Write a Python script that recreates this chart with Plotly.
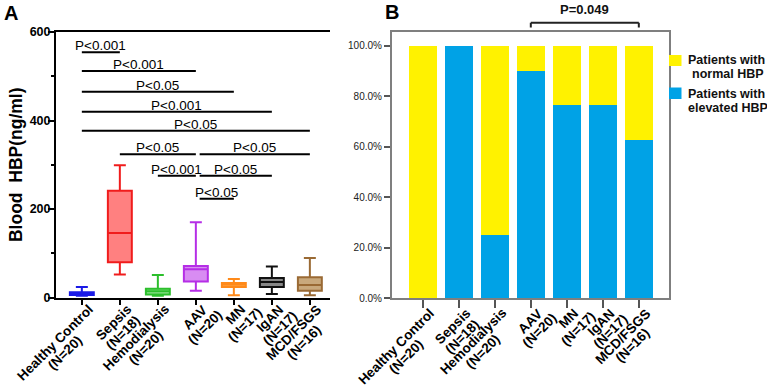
import math
import plotly.graph_objects as go

W, H = 767, 387
FONT = "Arial, Liberation Sans, Helvetica, sans-serif"

# ---------------- data ----------------
categories = ["Healthy Control", "Sepsis", "Hemodialysis", "AAV", "MN", "IgAN", "MCD/FSGS"]
group_n = [20, 18, 20, 20, 17, 17, 16]

# Panel A: blood HBP (ng/ml) box statistics
box_lower = [4, 52, 4, 15, 5, 8, 5]
box_q1 = [5.6, 79.5, 7, 36, 24, 24, 15]
box_median = [9, 146, 14, 64, 29, 35, 28]
box_q3 = [11.7, 241, 20, 71, 33, 44, 46]
box_upper = [24, 299, 51, 170, 42, 70, 89]

# Pairwise comparisons shown above panel A
sig_from = [0, 0, 0, 0, 0, 1, 3, 2, 3, 3]
sig_to = [1, 3, 4, 5, 6, 3, 6, 3, 5, 4]
sig_y = [554, 512, 465, 420, 377, 324, 324, 275, 275, 223]
sig_label = ["P<0.001", "P<0.001", "P<0.05", "P<0.001", "P<0.05",
             "P<0.05", "P<0.05", "P<0.001", "P<0.05", "P<0.05"]

# Panel B: percentage of patients
elevated_pct = [0, 100, 25, 90, 76.5, 76.5, 62.5]
normal_pct = [100, 0, 75, 10, 23.5, 23.5, 37.5]
b_compare = (3, 6)
b_compare_label = "P=0.049"

y_ticks_a = [0, 200, 400, 600]
y_minor_a = [100, 300, 500]
y_ticks_b = [0, 20, 40, 60, 80, 100]
y_ticktext_b = ["0.0%", "20.0%", "40.0%", "60.0%", "80.0%", "100.0%"]

# ---------------- styles ----------------
line_colors = ["#1a1ae6", "#f01c1c", "#2cbf2c", "#b52ee6", "#ff8a1a", "#111111", "#9a6a34"]
fill_colors = ["#7d7dff", "#ff8080", "#8ee08e", "#d88cf2", "#ffc27f", "#888888", "#c9a97c"]
yellow = "#FFF200"
blue = "#00A2E6"

# approximate Arial Bold widths (per 1000 em)
AB = {" ": 278, "(": 333, ")": 333, "=": 584, "/": 278, "A": 722, "B": 722, "C": 722,
      "D": 722, "F": 611, "G": 778, "H": 722, "I": 278, "M": 833, "N": 722, "P": 667,
      "S": 667, "V": 667, "a": 556, "c": 556, "d": 611, "e": 556, "g": 611, "h": 611,
      "i": 278, "l": 278, "m": 889, "n": 611, "o": 611, "p": 611, "r": 389, "s": 556,
      "t": 333, "y": 556}


def text_w(s, size):
    return sum(AB.get(c, 556) for c in s) / 1000.0 * size


xpos = list(range(len(categories)))


def px_x(p):
    return p / W


def px_y(p):
    return 1 - p / H


fig = go.Figure()

# Panel A boxes
for i in xpos:
    fig.add_trace(go.Box(
        x=[i], q1=[box_q1[i]], median=[box_median[i]], q3=[box_q3[i]],
        lowerfence=[box_lower[i]], upperfence=[box_upper[i]],
        name=categories[i], width=0.63, whiskerwidth=0.5,
        line=dict(color=line_colors[i], width=2), fillcolor=fill_colors[i],
        boxpoints=False, showlegend=False, xaxis="x", yaxis="y",
        hoverinfo="skip"))

# Panel B stacked bars
fig.add_trace(go.Bar(x=xpos, y=elevated_pct, name="Patients with elevated HBP",
                     marker=dict(color=blue, line=dict(width=0)), width=0.77,
                     xaxis="x2", yaxis="y2", showlegend=False))
fig.add_trace(go.Bar(x=xpos, y=normal_pct, name="Patients with normal HBP",
                     marker=dict(color=yellow, line=dict(width=0)), width=0.77,
                     xaxis="x2", yaxis="y2", showlegend=False))

shapes = []
annotations = []

# significance lines panel A
for a, b, y, lab in zip(sig_from, sig_to, sig_y, sig_label):
    x0 = a + (0.1 if a == 3 else 0)
    shapes.append(dict(type="line", xref="x", yref="y", x0=x0, x1=b, y0=y, y1=y,
                       line=dict(color="black", width=2)))
    annotations.append(dict(xref="x", yref="y", x=(x0 + b) / 2, y=y, text=lab,
                            showarrow=False, yanchor="bottom", yshift=-3,
                            font=dict(family=FONT, size=13.5, color="black")))

# bracket panel B
by0, by1 = px_y(22.7), px_y(27.5)
a, b = b_compare
shapes.append(dict(type="line", xref="x2", yref="paper", x0=a, x1=b, y0=by0, y1=by0,
                   line=dict(color="#222", width=2)))
for xx in (a, b):
    shapes.append(dict(type="line", xref="x2", yref="paper", x0=xx, x1=xx, y0=by0, y1=by1,
                       line=dict(color="#222", width=2)))
annotations.append(dict(xref="x2", yref="paper", x=(a + b) / 2, y=px_y(9.5), text=b_compare_label,
                        showarrow=False, yanchor="middle",
                        font=dict(family=FONT, size=13, color="#111", weight="bold")))

# legend for panel B
shapes.append(dict(type="rect", xref="paper", yref="paper", x0=px_x(669), x1=px_x(681.5),
                   y0=px_y(66), y1=px_y(55), fillcolor=yellow, line=dict(width=0)))
shapes.append(dict(type="rect", xref="paper", yref="paper", x0=px_x(669), x1=px_x(681.5),
                   y0=px_y(99), y1=px_y(87.5), fillcolor=blue, line=dict(width=0)))
leg_lines = [("Patients with", 686, 60.5), ("normal HBP", 690, 73.5),
             ("Patients with", 686, 94), ("elevated HBP", 686, 107.5)]
for t, lx, ly in leg_lines:
    annotations.append(dict(xref="paper", yref="paper", x=px_x(lx), y=px_y(ly), text=t,
                            showarrow=False, xanchor="left", yanchor="middle",
                            font=dict(family=FONT, size=12.5, color="#111", weight="bold")))

# panel letters
annotations.append(dict(xref="paper", yref="paper", x=px_x(2), y=px_y(13), text="A",
                        showarrow=False, xanchor="left", yanchor="middle",
                        font=dict(family=FONT, size=20, color="black", weight="bold")))
annotations.append(dict(xref="paper", yref="paper", x=px_x(383), y=px_y(12), text="B",
                        showarrow=False, xanchor="left", yanchor="middle",
                        font=dict(family=FONT, size=20, color="black", weight="bold")))

# rotated two-line category labels (centred lines, tight line spacing)
LBL = 13.5
LINE_GAP = 13.8
u = (math.cos(math.radians(45)), -math.sin(math.radians(45)))   # along text (screen px, y down)
nrm = (math.cos(math.radians(45)), math.sin(math.radians(45)))  # towards next line
lbl_font = dict(family=FONT, size=LBL, color="black", weight="bold")


def add_cat_labels(xref, axis_px, ticklen):
    for i in xpos:
        lines = [categories[i], f"(N={group_n[i]})"]
        w1 = text_w(lines[0], LBL)
        ex, ey = 12.5, ticklen + 8.0           # baseline end of first line vs tick
        mx, my = ex - w1 / 2 * u[0], ey - w1 / 2 * u[1]   # baseline middle of line 1
        for k, t in enumerate(lines):
            bx = mx + k * LINE_GAP * nrm[0]
            by = my + k * LINE_GAP * nrm[1]
            cx = bx - 4.7 * nrm[0]
            cy = by - 4.7 * nrm[1]
            annotations.append(dict(xref=xref, yref="paper", x=i, y=px_y(axis_px),
                                    xshift=cx, yshift=-cy, text=t, textangle=-45,
                                    showarrow=False, xanchor="center", yanchor="middle",
                                    borderpad=0, font=lbl_font))


add_cat_labels("x", 297.5, 5)
add_cat_labels("x2", 298.3, 8)

ytick_font = dict(family=FONT, size=12.5, color="black", weight="bold")

fig.update_layout(
    template="none",
    width=W, height=H,
    margin=dict(l=0, r=0, t=0, b=0),
    paper_bgcolor="white", plot_bgcolor="white",
    font=dict(family=FONT, color="black"),
    boxmode="overlay", barmode="stack",
    showlegend=False,
    shapes=shapes, annotations=annotations,
    xaxis=dict(domain=[px_x(56), px_x(330)], range=[-0.68, 6.53],
               tickvals=xpos, ticktext=categories, showticklabels=False,
               showline=True, linecolor="black", linewidth=2, mirror=True,
               ticks="outside", ticklen=5, tickwidth=1.5, tickcolor="black",
               showgrid=False, zeroline=False, automargin=False, anchor="y"),
    yaxis=dict(domain=[px_y(297.5), px_y(32)], range=[0, 600],
               tickvals=y_ticks_a, tickfont=ytick_font, ticklabelstandoff=-5,
               showline=True, linecolor="black", linewidth=2,
               ticks="outside", ticklen=6, tickwidth=2, tickcolor="black",
               minor=dict(tickvals=y_minor_a, ticks="outside", ticklen=3, tickwidth=2,
                          tickcolor="black", showgrid=False),
               title=dict(text="Blood  HBP(ng/ml)", standoff=3,
                          font=dict(family=FONT, size=17.5, color="black", weight="bold")),
               showgrid=False, zeroline=False, automargin=False, anchor="x"),
    xaxis2=dict(domain=[px_x(391.7), px_x(668.7)], range=[-0.864, 6.83],
                tickvals=xpos, ticktext=categories, showticklabels=False,
                showline=True, linecolor="#7f7f7f", linewidth=1.5, mirror=True,
                ticks="outside", ticklen=8, tickwidth=1.5, tickcolor="#555",
                showgrid=False, zeroline=False, automargin=False, anchor="y2"),
    yaxis2=dict(domain=[px_y(298.3), px_y(32.3)], range=[0, 105.3],
                tickvals=y_ticks_b, ticktext=y_ticktext_b,
                tickfont=dict(family=FONT, size=10, color="#222"),
                showline=True, linecolor="#7f7f7f", linewidth=1.5, mirror=True,
                ticks="outside", ticklen=6, tickwidth=1.5, tickcolor="#555",
                showgrid=False, zeroline=False, automargin=False, anchor="x2"),
)

fig.write_html("out.html")
